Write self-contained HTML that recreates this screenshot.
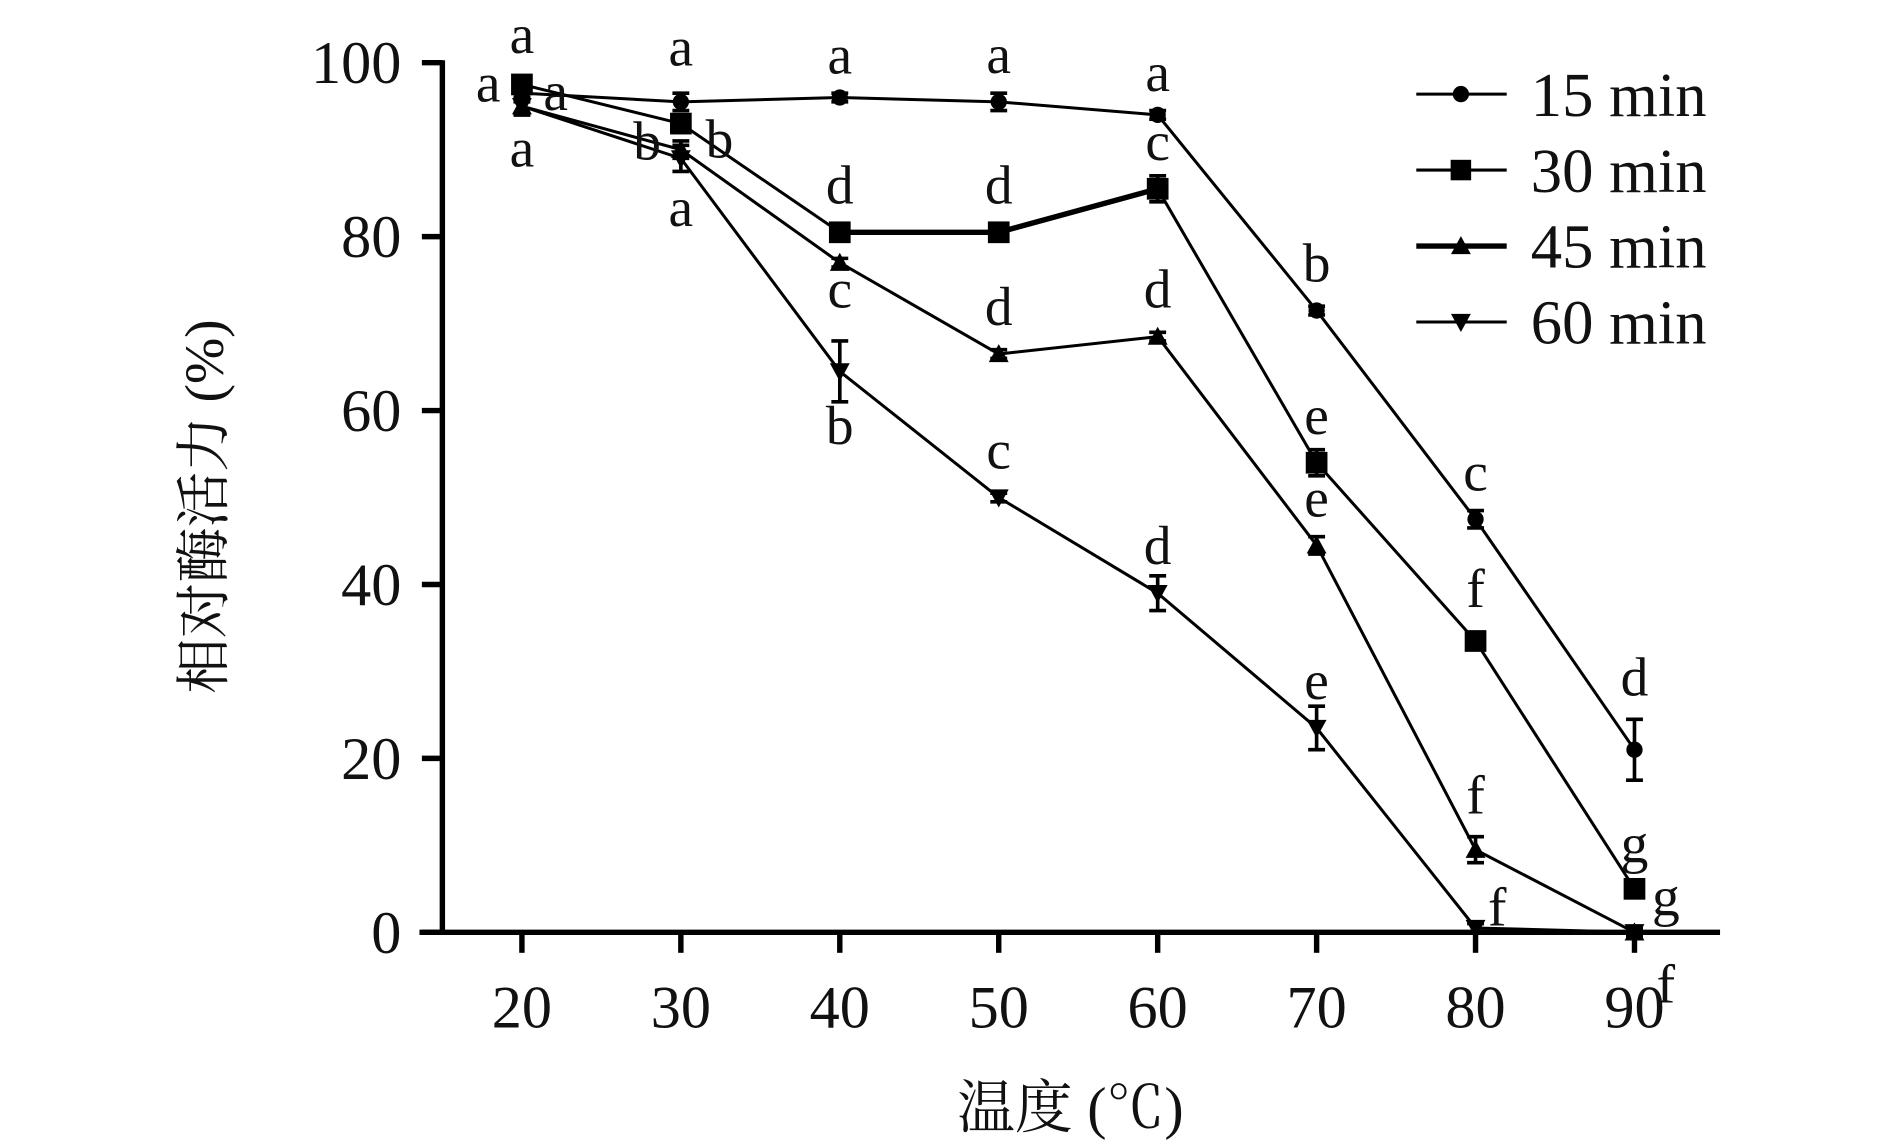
<!DOCTYPE html>
<html><head><meta charset="utf-8"><style>
html,body{margin:0;padding:0;background:#fff;}
svg{display:block;}
text{font-family:"Liberation Serif","Noto Serif CJK SC",serif;fill:#111;}
</style></head><body>
<svg id="chart" width="1890" height="1147" viewBox="0 0 1568 951" preserveAspectRatio="none" xmlns="http://www.w3.org/2000/svg">
<g id="axes"></g>
<g id="series"></g>
<g id="labels"></g>
<g id="legend"></g>
<text transform="translate(185,420) rotate(-90)" text-anchor="middle" font-size="46">相对酶活力 (%)</text>
<text x="888" y="935" text-anchor="middle" font-size="48">温度 (℃)</text>
</svg>
<script>
const categories=[20,30,40,50,60,70,80,90];
const yTicks=[0,20,40,60,80,100];
const seriesNames=["15 min","30 min","45 min","60 min"];
const s15=[96.5,95.5,96,95.5,94,71.5,47.5,21];
const s30=[97.5,93,80.5,80.5,85.5,54,33.5,5];
const s45=[95,90,77,66.5,68.5,44.5,9.5,0];
const s60=[95,89,64.5,50,39,23.5,0.5,0];
const err15=[1,1,0.5,1,0.5,0.5,1,3.5];
const err30=[1,1,1,1,1.5,1.5,1,1];
const err45=[1,1,0.5,0.5,0.5,1,1.5,0.5];
const err60=[1,1.5,3.5,0.5,2,2.5,0.5,0.5];
const letters15=["a","a","a","a","a","b","c","d"];
const letters30=["a","b","d","d","c","e","f","g"];
const letters45=["a","b","c","d","d","e","f","g"];
const letters60=["a","a","b","c","d","e","f","f"];
const NS="http://www.w3.org/2000/svg";
const X=v=>433+(v-20)*13.186;
const Y=v=>773-v*7.21;
function mk(tag,at,parent){const e=document.createElementNS(NS,tag);for(const k in at)e.setAttribute(k,at[k]);parent.appendChild(e);return e;}
const axes=document.getElementById('axes');
let l=mk('line',{x1:367,y1:50,x2:367,y2:775,stroke:'#000','stroke-width':4.5},axes);


l=mk('line',{x1:348,y1:773,x2:1427,y2:773,stroke:'#000','stroke-width':4.5},axes);


yTicks.forEach(t=>{
  const tk=mk('line',{x1:350,y1:Y(t),x2:367,y2:Y(t),stroke:'#000','stroke-width':4.5},axes);
  
  
  const tx=mk('text',{x:333,y:Y(t)+17,'text-anchor':'end','font-size':50},axes);
  tx.textContent=t;
  
  
});
categories.forEach(c=>{
  const tk=mk('line',{x1:X(c),y1:773,x2:X(c),y2:790,stroke:'#000','stroke-width':4.5},axes);
  
  
  const tx=mk('text',{x:X(c),y:852,'text-anchor':'middle','font-size':50},axes);
  tx.textContent=c;
  
  
});
function marker(type,x,y,g,sz){
  let e;
  if(type==='circle')e=mk('circle',{cx:x,cy:y,r:sz*0.45,fill:'#000'},g);
  else if(type==='square')e=mk('rect',{x:x-sz/2,y:y-sz/2,width:sz,height:sz,fill:'#000'},g);
  else if(type==='tri')e=mk('polygon',{points:`${x},${y-sz*0.55} ${x-sz*0.55},${y+sz*0.45} ${x+sz*0.55},${y+sz*0.45}`,fill:'#000'},g);
  else e=mk('polygon',{points:`${x},${y+sz*0.55} ${x-sz*0.55},${y-sz*0.45} ${x+sz*0.55},${y-sz*0.45}`,fill:'#000'},g);
  return e;
}
const sg=document.getElementById('series');
const all=[[s15,err15,'circle',2.5,'series-15min'],[s30,err30,'square',2.5,'series-30min'],[s45,err45,'tri',2.5,'series-45min'],[s60,err60,'inv',2.5,'series-60min']];
all.forEach(([vals,errs,type,w,name])=>{
  const g=mk('g',{},sg);
  
  
  const p=mk('polyline',{points:vals.map((v,i)=>X(categories[i])+','+Y(v)).join(' '),fill:'none',stroke:'#000','stroke-width':w},g);
  
  
  vals.forEach((v,i)=>{
    const x=X(categories[i]);
    const eb=mk('path',{d:`M${x},${Y(v+errs[i])}V${Y(v-errs[i])}M${x-7},${Y(v+errs[i])}H${x+7}M${x-7},${Y(v-errs[i])}H${x+7}`,stroke:'#000','stroke-width':3,fill:'none'},g);
    
    
    const m=marker(type,x,Y(v),g,type==='square'?18:15);
    
    
  });
});
const thick=mk('polyline',{points:[2,3,4].map(i=>X(categories[i])+','+Y(s30[i])).join(' '),fill:'none',stroke:'#000','stroke-width':4.5},sg);


const lg=document.getElementById('labels');
const off15=[[28,14],[0,-30],[0,-20],[0,-24],[0,-20],[0,-24],[0,-24],[0,-45]];
const off30=[[-28,14],[32,28],[0,-24],[0,-24],[0,-24],[0,-24],[0,-28],[26,22]];
const off45=[[0,50],[-28,8],[0,37],[0,-24],[0,-24],[0,-24],[0,-30],[0,-58]];
const off60=[[0,-44],[0,56],[0,60],[0,-24],[0,-24],[0,-24],[18,-2],[26,58]];
[[s15,letters15,off15],[s30,letters30,off30],[s45,letters45,off45],[s60,letters60,off60]].forEach(([vals,lets,offs])=>{
  vals.forEach((v,i)=>{
    const t=mk('text',{x:X(categories[i])+offs[i][0],y:Y(v)+offs[i][1],'text-anchor':'middle','font-size':46},lg);
    t.textContent=lets[i];
    
    
  });
});
const leg=document.getElementById('legend');
const types=['circle','square','tri','inv'];
seriesNames.forEach((n,i)=>{
  const y=78+i*63;
  const g=mk('g',{},leg);
  
  
  mk('line',{x1:1175,y1:y,x2:1250,y2:y,stroke:'#000','stroke-width':i===2?4.5:2.5},g);
  marker(types[i],1212,y,g,types[i]==='square'?17:15);
  const t=mk('text',{x:1270,y:y+18,'font-size':52},g);
  t.textContent=n;
});
</script>
</body></html>
